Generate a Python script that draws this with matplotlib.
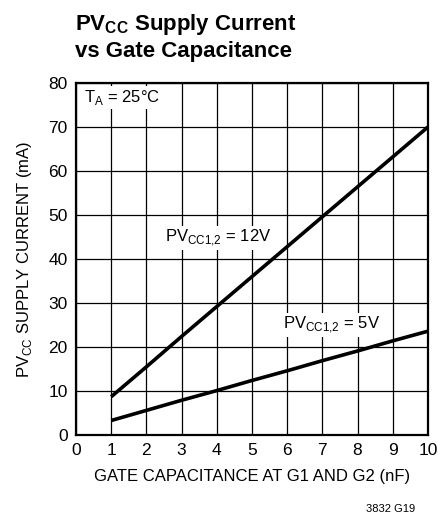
import matplotlib
matplotlib.use("Agg")
import matplotlib.pyplot as plt
from matplotlib import font_manager

names = {f.name for f in font_manager.fontManager.ttflist}
fam = "Liberation Sans Narrow" if "Liberation Sans Narrow" in names else "Liberation Sans"
plt.rcParams['font.family'] = [fam, 'DejaVu Sans']

cap_nf = [1, 2, 3, 4, 5, 6, 7, 8, 9, 10]
i_12v = [8.7, 15.5, 22.4, 29.2, 36.0, 42.8, 49.6, 56.4, 63.2, 70.0]
i_5v = [3.3, 5.6, 7.9, 10.1, 12.4, 14.6, 16.9, 19.1, 21.4, 23.6]
xticks = list(range(0, 11))
yticks = list(range(0, 81, 10))

fig = plt.figure(figsize=(4.38, 5.21), dpi=100)
ax = fig.add_axes([0.1735, 0.165, 0.8035, 0.6757])
ax.set_xlim(0, 10)
ax.set_ylim(0, 80)
ax.set_xticks(xticks)
ax.set_yticks(yticks)
ax.tick_params(length=0, labelsize=12.5, pad=6)
ax.grid(True, color='black', linewidth=0.9)
ax.set_axisbelow(True)
for s in ax.spines.values():
    s.set_linewidth(1.6)

ax.plot(cap_nf, i_12v, color='black', linewidth=2.6, solid_capstyle='butt')
ax.plot(cap_nf, i_5v, color='black', linewidth=2.6, solid_capstyle='butt')

box = dict(facecolor='white', edgecolor='none', pad=1.5)
ax.text(0.23, 76.6, r'T$_\mathregular{A}$ = 25°C', fontsize=12, va='center', ha='left', bbox=box)
ax.text(2.53, 44.8, r'PV$_\mathregular{CC1{,}2}$ = 12V', fontsize=12, va='center', ha='left', bbox=box)
ax.text(5.88, 25.0, r'PV$_\mathregular{CC1{,}2}$ = 5V', fontsize=12, va='center', ha='left', bbox=box)

ax.set_xlabel('GATE CAPACITANCE AT G1 AND G2 (nF)', fontsize=12, labelpad=8)
ax.set_ylabel(r'PV$_\mathregular{CC}$ SUPPLY CURRENT (mA)', fontsize=12, labelpad=10)

fig.text(75/438, 1 - 30/521, r'PV$_\mathregular{CC}$ Supply Current', fontsize=16, fontweight='bold', ha='left', va='baseline')
fig.text(75/438, 1 - 57/521, 'vs Gate Capacitance', fontsize=16, fontweight='bold', ha='left', va='baseline')
fig.text(415/438, 1 - 512/521, '3832 G19', fontsize=8, ha='right', va='baseline')

fig.savefig('out.png', dpi=100)
